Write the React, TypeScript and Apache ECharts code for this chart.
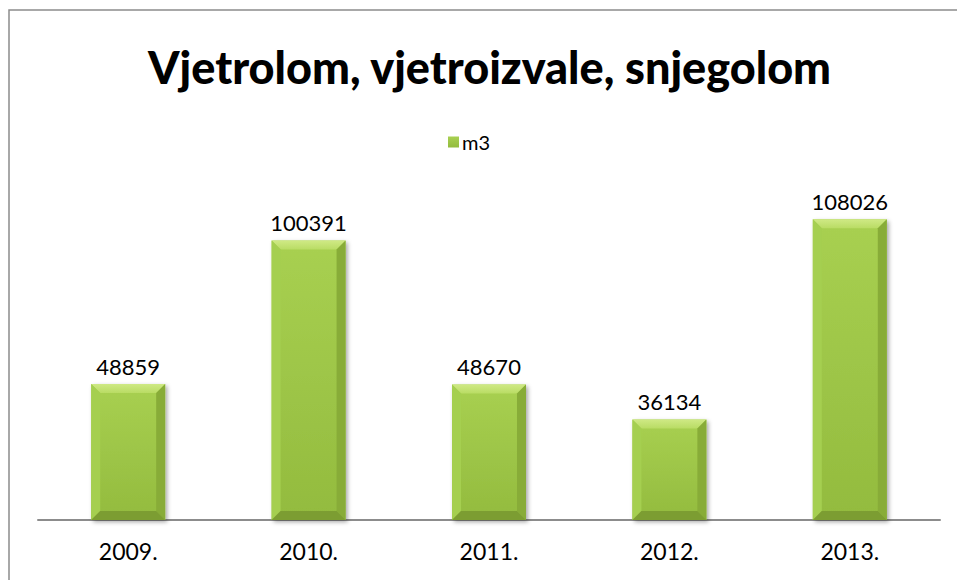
import React, { useEffect, useRef } from "react";
import * as echarts from "echarts";

const categories = ["2009.", "2010.", "2011.", "2012.", "2013."];
const values = [48859, 100391, 48670, 36134, 108026];
const seriesName = "m3";
const titleText = "Vjetrolom, vjetroizvale, snjegolom";

const FONT = "Lato";

export default function App() {
  const ref = useRef<HTMLDivElement>(null);
  useEffect(() => {
    const chart = echarts.init(ref.current!, undefined, { renderer: "svg" });
    const bevel = 9;
    chart.setOption({
      animation: false,
      backgroundColor: "#ffffff",
      title: {
        text: titleText,
        left: 143,
        top: 39,
        textStyle: { fontFamily: FONT, fontWeight: 900, fontSize: 45, color: "#000" },
      },
      legend: {
        data: [seriesName],
        top: 127,
        left: 443,
        icon: "rect",
        itemWidth: 11,
        itemHeight: 11,
        itemGap: 4,
        textStyle: { fontFamily: FONT, fontSize: 20, color: "#000", padding: [0, 0, 0, -2] },
      },
      graphic: [
        {
          type: "rect",
          shape: { x: 9, y: 10, width: 1000, height: 1000 },
          style: { fill: "none", stroke: "#8c8c8c", lineWidth: 1.5 },
          silent: true,
          z: -1,
        },
      ],
      grid: { left: 38, right: 17, top: 186, bottom: 60 },
      xAxis: {
        type: "category",
        data: categories,
        axisLine: { lineStyle: { color: "#8c8c8c", width: 2 } },
        axisTick: { show: false },
        axisLabel: { fontFamily: FONT, fontSize: 23, color: "#000", margin: 19 },
      },
      yAxis: {
        type: "value",
        min: 0,
        max: 120000,
        show: false,
        splitLine: { show: false },
      },
      series: [
        {
          name: seriesName,
          type: "bar",
          barWidth: "41%",
          data: values,
          itemStyle: {
            color: {
              type: "linear",
              x: 0,
              y: 0,
              x2: 0,
              y2: 1,
              colorStops: [
                { offset: 0, color: "#a8d051" },
                { offset: 1, color: "#93bb3e" },
              ],
            },
            shadowColor: "rgba(0,0,0,0.35)",
            shadowBlur: 4,
            shadowOffsetX: 2,
            shadowOffsetY: 2,
          },
          label: {
            show: true,
            position: "top",
            distance: 7,
            fontFamily: FONT,
            fontSize: 22,
            color: "#000",
          },
          z: 2,
        },
        {
          name: "bevel",
          type: "custom",
          data: values.map((v, i) => [i, v]),
          z: 3,
          silent: true,
          renderItem: (params: any, api: any) => {
            const idx = api.value(0);
            const val = api.value(1);
            const top = api.coord([idx, val]);
            const base = api.coord([idx, 0]);
            const w = api.size([1, 0])[0] * 0.41;
            const x0 = top[0] - w / 2;
            const x1 = top[0] + w / 2;
            const y0 = top[1];
            const y1 = base[1];
            const b = bevel;
            return {
              type: "group",
              children: [
                {
                  type: "polygon",
                  shape: { points: [[x0, y0], [x1, y0], [x1 - b, y0 + b], [x0 + b, y0 + b]] },
                  style: {
                    fill: {
                      type: "linear", x: 0, y: 0, x2: 0, y2: 1,
                      colorStops: [
                        { offset: 0, color: "#cfe985" },
                        { offset: 1, color: "#b9dc64" },
                      ],
                    },
                  },
                },
                {
                  type: "polygon",
                  shape: { points: [[x0, y0], [x0 + b, y0 + b], [x0 + b, y1 - b], [x0, y1]] },
                  style: { fill: "#a5cf50" },
                },
                {
                  type: "polygon",
                  shape: { points: [[x1, y0], [x1 - b, y0 + b], [x1 - b, y1 - b], [x1, y1]] },
                  style: { fill: "#88ac38" },
                },
                {
                  type: "polygon",
                  shape: { points: [[x0, y1], [x0 + b, y1 - b], [x1 - b, y1 - b], [x1, y1]] },
                  style: { fill: "#7c9d32" },
                },
              ],
            };
          },
        },
      ],
    });
    return () => chart.dispose();
  }, []);
  return (
    <div
      ref={ref}
      style={{ position: "fixed", left: 0, top: 0, width: 957, height: 580 }}
    />
  );
}
